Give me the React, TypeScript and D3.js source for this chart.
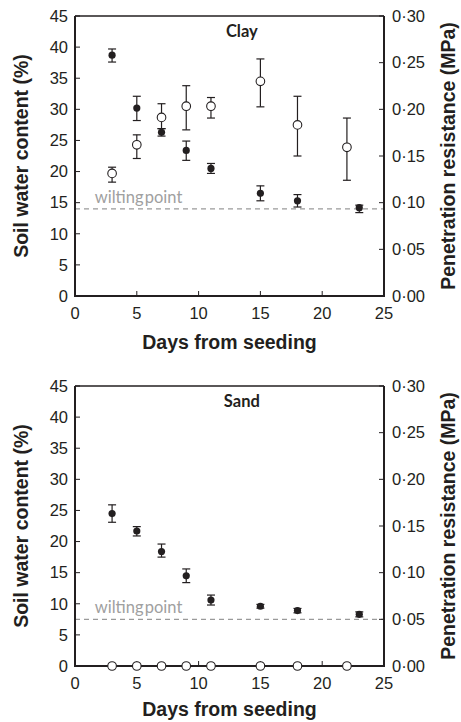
import React from "react";
import * as d3 from "d3";

const days = [3, 5, 7, 9, 11, 15, 18, 23];
const openDays = [3, 5, 7, 9, 11, 15, 18, 22];

// Clay panel
const clayClosed = [38.7, 30.2, 26.3, 23.4, 20.5, 16.5, 15.3, 14.2];
const clayClosedLo = [37.6, 28.2, 25.7, 21.8, 19.7, 15.3, 14.3, 13.4];
const clayClosedHi = [39.7, 32.1, 26.9, 24.9, 21.3, 17.7, 16.3, 14.6];
const clayOpen = [19.7, 24.3, 28.7, 30.5, 30.5, 34.5, 27.5, 23.9];
const clayOpenLo = [18.3, 22.1, 26.9, 26.7, 28.6, 30.4, 22.5, 18.6];
const clayOpenHi = [20.7, 25.9, 30.9, 33.8, 31.9, 38.1, 32.1, 28.6];
const clayWilting = 14.0;

// Sand panel
const sandClosed = [24.5, 21.7, 18.4, 14.5, 10.6, 9.6, 8.9, 8.3];
const sandClosedLo = [23.1, 20.9, 17.5, 13.4, 9.8, 9.3, 8.55, 7.9];
const sandClosedHi = [25.9, 22.4, 19.6, 15.6, 11.4, 9.9, 9.25, 8.7];
const sandOpen = [0, 0, 0, 0, 0, 0, 0, 0];
const sandWilting = 7.5;

const xTicks = [0, 5, 10, 15, 20, 25];
const yTicks = [0, 5, 10, 15, 20, 25, 30, 35, 40, 45];
const y2Ticks = [0, 0.05, 0.1, 0.15, 0.2, 0.25, 0.3];

const panelTitles = ["Clay", "Sand"];
const xLabel = "Days from seeding";
const yLabel = "Soil water content (%)";
const y2Label = "Penetration resistance (MPa)";
const wiltLabel = "wilting point";

const INK = "#231f20";
const L = 75, R = 384;

type PanelProps = {
  top: number;
  title: string;
  closed: number[];
  closedLo: number[];
  closedHi: number[];
  open: number[];
  openLo: number[] | null;
  openHi: number[] | null;
  wilting: number;
  labelOffset: number;
};

function Panel(p: PanelProps) {
  const B = p.top + 280;
  const x = d3.scaleLinear().domain([0, 25]).range([L, R]);
  const y = d3.scaleLinear().domain([0, 45]).range([B, p.top]);
  const y2 = d3.scaleLinear().domain([0, 0.3]).range([B, p.top]);
  const fmt2 = (v: number) => d3.format(".2f")(v).replace(".", "\u00b7");
  const cap = 4;
  const tick = 5;
  return (
    <g>
      {/* wilting line */}
      <line x1={L} x2={R} y1={y(p.wilting)} y2={y(p.wilting)} stroke="#9a9a9a" strokeWidth={1.3} strokeDasharray="5,4" />
      <text x={x(1.6)} y={y(p.wilting) - 6} fill="#a0a0a0" fontFamily="Lato, 'Open Sans', sans-serif" fontSize={16.5} style={{ wordSpacing: "-3px" }}>
        {wiltLabel}
      </text>
      {/* axes */}
      <line x1={L} x2={L} y1={p.top} y2={B} stroke={INK} strokeWidth={2} />
      <line x1={R} x2={R} y1={p.top} y2={B} stroke={INK} strokeWidth={2} />
      <line x1={L - 1} x2={R + 1} y1={B} y2={B} stroke={INK} strokeWidth={2} />
      <line x1={L} x2={R} y1={p.top} y2={p.top} stroke={INK} strokeWidth={1.5} />
      {yTicks.map((t) => (
        <g key={"y" + t}>
          <line x1={L} x2={L + tick} y1={y(t)} y2={y(t)} stroke={INK} strokeWidth={1} />
          <text x={L - 7} y={y(t)} dy="0.35em" textAnchor="end" fill={INK} fontFamily="'Liberation Sans', Arial, sans-serif" fontSize={16.5}>
            {t}
          </text>
        </g>
      ))}
      {y2Ticks.map((t) => (
        <g key={"y2" + t}>
          <line x1={R - tick} x2={R} y1={y2(t)} y2={y2(t)} stroke={INK} strokeWidth={1} />
          <text x={R + 8} y={y2(t)} dy="0.35em" textAnchor="start" fill={INK} fontFamily="'Liberation Sans', Arial, sans-serif" fontSize={16.5}>
            {fmt2(t)}
          </text>
        </g>
      ))}
      {xTicks.map((t) => (
        <g key={"x" + t}>
          {t > 0 && t < 25 && <line x1={x(t)} x2={x(t)} y1={B} y2={B - tick} stroke={INK} strokeWidth={1} />}
          <text x={x(t)} y={B + 23} textAnchor="middle" fill={INK} fontFamily="'Liberation Sans', Arial, sans-serif" fontSize={16.5}>
            {t}
          </text>
        </g>
      ))}
      <text x={(L + R) / 2} y={B + p.labelOffset} textAnchor="middle" fill={INK} fontWeight="bold" fontFamily="'Liberation Sans', Arial, sans-serif" fontSize={19.5}>
        {xLabel}
      </text>
      <text transform={`translate(28,${(p.top + B) / 2}) rotate(-90)`} textAnchor="middle" fill={INK} fontWeight="bold" fontFamily="'Liberation Sans', Arial, sans-serif" fontSize={19.5}>
        {yLabel}
      </text>
      <text transform={`translate(455,${(p.top + B) / 2}) rotate(-90)`} textAnchor="middle" fill={INK} fontWeight="bold" fontFamily="'Liberation Sans', Arial, sans-serif" fontSize={19.5}>
        {y2Label}
      </text>
      <text x={x(13.5)} y={p.top + 21} textAnchor="middle" fill={INK} fontWeight="bold" fontFamily="Lato, 'Open Sans', sans-serif" fontSize={16.5}>
        {p.title}
      </text>
      {/* open series */}
      {p.open.map((v, i) => (
        <g key={"o" + i}>
          {p.openLo && p.openHi && (
            <g stroke={INK} strokeWidth={1.2}>
              <line x1={x(openDays[i])} x2={x(openDays[i])} y1={y(p.openLo[i])} y2={y(p.openHi[i])} />
              <line x1={x(openDays[i]) - cap} x2={x(openDays[i]) + cap} y1={y(p.openLo[i])} y2={y(p.openLo[i])} />
              <line x1={x(openDays[i]) - cap} x2={x(openDays[i]) + cap} y1={y(p.openHi[i])} y2={y(p.openHi[i])} />
            </g>
          )}
          <circle cx={x(openDays[i])} cy={y(v)} r={4.3} fill="white" stroke={INK} strokeWidth={1.1} />
        </g>
      ))}
      {/* closed series */}
      {p.closed.map((v, i) => (
        <g key={"c" + i}>
          <g stroke={INK} strokeWidth={1.2}>
            <line x1={x(days[i])} x2={x(days[i])} y1={y(p.closedLo[i])} y2={y(p.closedHi[i])} />
            <line x1={x(days[i]) - cap} x2={x(days[i]) + cap} y1={y(p.closedLo[i])} y2={y(p.closedLo[i])} />
            <line x1={x(days[i]) - cap} x2={x(days[i]) + cap} y1={y(p.closedHi[i])} y2={y(p.closedHi[i])} />
          </g>
          <circle cx={x(days[i])} cy={y(v)} r={3.6} fill={INK} />
        </g>
      ))}
    </g>
  );
}

export default function App() {
  return (
    <svg width={461} height={722} style={{ position: "absolute", left: 0, top: 0, background: "white" }}>
      <rect width={461} height={722} fill="white" />
      <Panel top={16} title={panelTitles[0]} closed={clayClosed} closedLo={clayClosedLo} closedHi={clayClosedHi}
        open={clayOpen} openLo={clayOpenLo} openHi={clayOpenHi} wilting={clayWilting} labelOffset={53} />
      <Panel top={386} title={panelTitles[1]} closed={sandClosed} closedLo={sandClosedLo} closedHi={sandClosedHi}
        open={sandOpen} openLo={null} openHi={null} wilting={sandWilting} labelOffset={50} />
    </svg>
  );
}
